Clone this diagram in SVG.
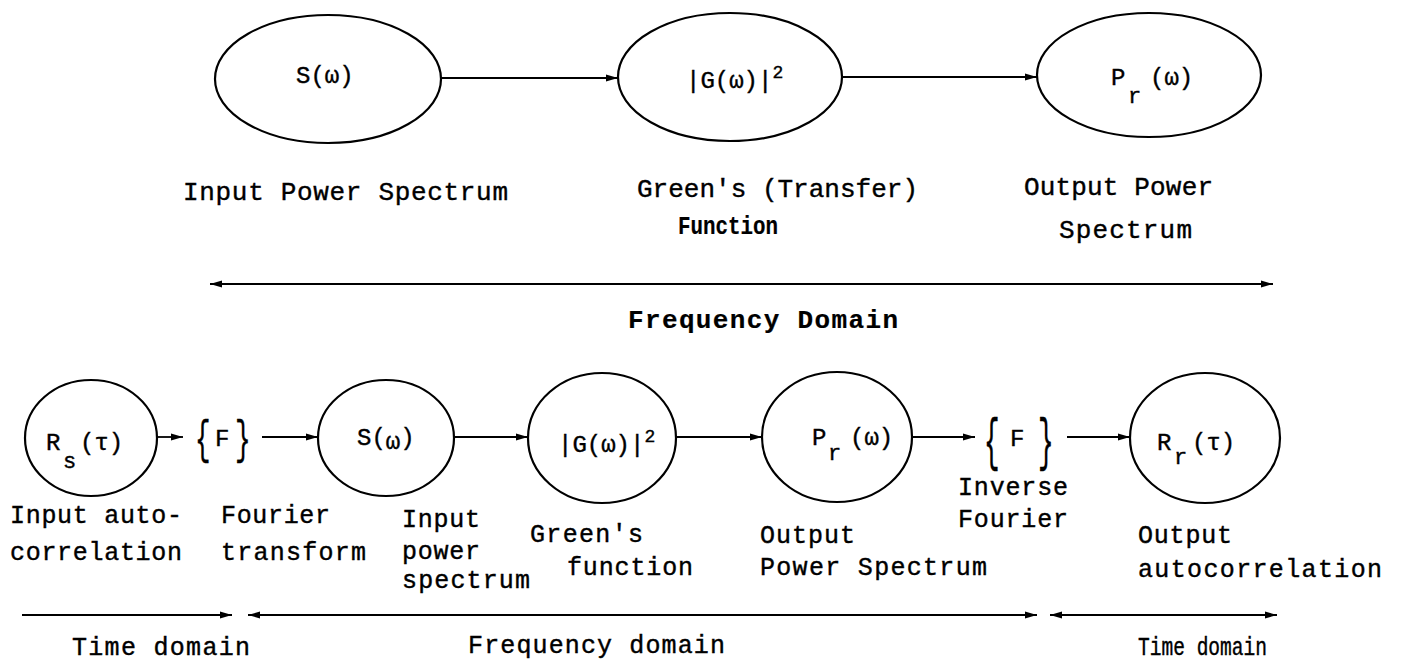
<svg xmlns="http://www.w3.org/2000/svg" width="1405" height="664" viewBox="0 0 1405 664">
  <defs>
    <marker id="head" markerUnits="userSpaceOnUse" markerWidth="14" markerHeight="10" refX="12" refY="5" orient="auto-start-reverse">
      <path d="M0,1.5 L12,5 L0,8.5 Z" fill="#000"/>
    </marker>
  </defs>
  <style>
    .node { fill: none; stroke: #000; stroke-width: 2.2; }
    .edge { fill: none; stroke: #000; stroke-width: 1.8; }
    .axis { fill: none; stroke: #000; stroke-width: 2; }
    text { font-family: "Liberation Mono", "DejaVu Sans Mono", monospace; fill: #000; stroke: #000; stroke-width: 0.4; }
    .sym { font-size: 24px; }
    .sub { font-size: 22px; }
    .sup { font-size: 18px; }
    .lbl { font-size: 26px; }
    .lbs { font-size: 25px; }
    .hd { font-size: 26px; font-weight: bold; stroke-width: 0.2; }
    .brace { font-size: 26px; stroke-width: 0.2; }
  </style>
  <rect width="1405" height="664" fill="#fff"/>

  <!-- connectors -->
  <g id="connectors">
    <line class="edge" x1="441" y1="78" x2="618" y2="78" marker-end="url(#head)"/>
    <line class="edge" x1="843" y1="77" x2="1037" y2="77" marker-end="url(#head)"/>
    <line class="axis" x1="210" y1="284" x2="1273" y2="284" marker-start="url(#head)" marker-end="url(#head)"/>

    <line class="edge" x1="158" y1="437" x2="183" y2="437" marker-end="url(#head)"/>
    <line class="edge" x1="262" y1="437" x2="318" y2="437" marker-end="url(#head)"/>
    <line class="edge" x1="455" y1="437" x2="528" y2="437" marker-end="url(#head)"/>
    <line class="edge" x1="677" y1="437" x2="762" y2="437" marker-end="url(#head)"/>
    <line class="edge" x1="912" y1="437" x2="975" y2="437" marker-end="url(#head)"/>
    <line class="edge" x1="1067" y1="437" x2="1130" y2="437" marker-end="url(#head)"/>

    <line class="axis" x1="22" y1="615" x2="232" y2="615" marker-end="url(#head)"/>
    <line class="axis" x1="248" y1="615" x2="1037" y2="615" marker-start="url(#head)" marker-end="url(#head)"/>
    <line class="axis" x1="1050" y1="615" x2="1277" y2="615" marker-start="url(#head)" marker-end="url(#head)"/>
  </g>

  <!-- frequency-domain chain -->
  <g id="input-spectrum">
    <ellipse class="node" cx="328" cy="79" rx="113" ry="64"/>
    <text class="sym" x="296" y="83">S(ω)</text>
    <text class="lbl" x="183" y="200" textLength="325">Input Power Spectrum</text>
  </g>
  <g id="transfer-function">
    <ellipse class="node" cx="730" cy="77" rx="112" ry="64"/>
    <text class="sym" x="686" y="88">|G(ω)|<tspan class="sup" dy="-10">2</tspan></text>
    <text class="lbl" x="637" y="197" textLength="281">Green's (Transfer)</text>
    <text class="lbs" x="678" y="234" textLength="100" lengthAdjust="spacingAndGlyphs" font-weight="bold" style="stroke-width:0.2">Function</text>
  </g>
  <g id="output-spectrum">
    <ellipse class="node" cx="1149" cy="75" rx="112" ry="62"/>
    <text class="sym" x="1111" y="85">P</text>
    <text class="sub" x="1128" y="103">r</text>
    <text class="sym" x="1150" y="85">(ω)</text>
    <text class="lbl" x="1024" y="195" textLength="189">Output Power</text>
    <text class="lbl" x="1059" y="238" textLength="133">Spectrum</text>
  </g>
  <g id="frequency-domain-label">
    <text class="hd" x="628" y="328" textLength="270">Frequency Domain</text>
  </g>

  <!-- time/frequency chain -->
  <g id="input-autocorrelation">
    <ellipse class="node" cx="91" cy="438" rx="66" ry="58"/>
    <text class="sym" x="46" y="450">R</text>
    <text class="sub" x="63" y="468">s</text>
    <text class="sym" x="80" y="450">(τ)</text>
    <text class="lbs" x="10" y="523" textLength="172">Input auto-</text>
    <text class="lbs" x="10" y="560" textLength="172">correlation</text>
  </g>
  <g id="fourier-transform">
    <text class="brace" transform="translate(195,437) scale(1,1.8)" y="9">{</text>
    <text class="sym" x="215" y="446">F</text>
    <text class="brace" transform="translate(235,437) scale(1,1.8)" y="9">}</text>
    <text class="lbs" x="221" y="523" textLength="109">Fourier</text>
    <text class="lbs" x="221" y="560" textLength="145">transform</text>
  </g>
  <g id="input-power-spectrum">
    <ellipse class="node" cx="386" cy="438" rx="68" ry="58"/>
    <text class="sym" x="357" y="445">S(<tspan dy="4">ω</tspan><tspan dy="-4">)</tspan></text>
    <text class="lbs" x="402" y="527" textLength="78">Input</text>
    <text class="lbs" x="402" y="559" textLength="78">power</text>
    <text class="lbs" x="402" y="588" textLength="128">spectrum</text>
  </g>
  <g id="greens-function">
    <ellipse class="node" cx="602" cy="438" rx="74" ry="65"/>
    <text class="sym" x="558" y="452">|G(ω)|<tspan class="sup" dy="-10">2</tspan></text>
    <text class="lbs" x="530" y="542" textLength="113">Green's</text>
    <text class="lbs" x="567" y="575" textLength="126">function</text>
  </g>
  <g id="output-power-spectrum">
    <ellipse class="node" cx="837" cy="437" rx="75" ry="65"/>
    <text class="sym" x="812" y="445">P</text>
    <text class="sub" x="828" y="460">r</text>
    <text class="sym" x="850" y="445">(ω)</text>
    <text class="lbs" x="760" y="543" textLength="95">Output</text>
    <text class="lbs" x="760" y="575" textLength="227">Power Spectrum</text>
  </g>
  <g id="inverse-fourier">
    <text class="brace" transform="translate(984,439) scale(1,2.2)" y="9">{</text>
    <text class="sym" x="1010" y="446">F</text>
    <text class="brace" transform="translate(1038,439) scale(1,2.2)" y="9">}</text>
    <text class="lbs" x="958" y="495" textLength="110">Inverse</text>
    <text class="lbs" x="958" y="527" textLength="110">Fourier</text>
  </g>
  <g id="output-autocorrelation">
    <ellipse class="node" cx="1205" cy="438" rx="75" ry="65"/>
    <text class="sym" x="1157" y="450">R</text>
    <text class="sub" x="1174" y="464">r</text>
    <text class="sym" x="1192" y="450">(τ)</text>
    <text class="lbs" x="1138" y="543" textLength="94">Output</text>
    <text class="lbs" x="1138" y="577" textLength="244">autocorrelation</text>
  </g>

  <!-- domain captions -->
  <g id="domain-labels">
    <text class="lbs" x="72" y="655" textLength="178">Time domain</text>
    <text class="lbs" x="468" y="653" textLength="257">Frequency domain</text>
    <text class="lbs" x="1138" y="655" textLength="129" lengthAdjust="spacingAndGlyphs">Time domain</text>
  </g>
</svg>
